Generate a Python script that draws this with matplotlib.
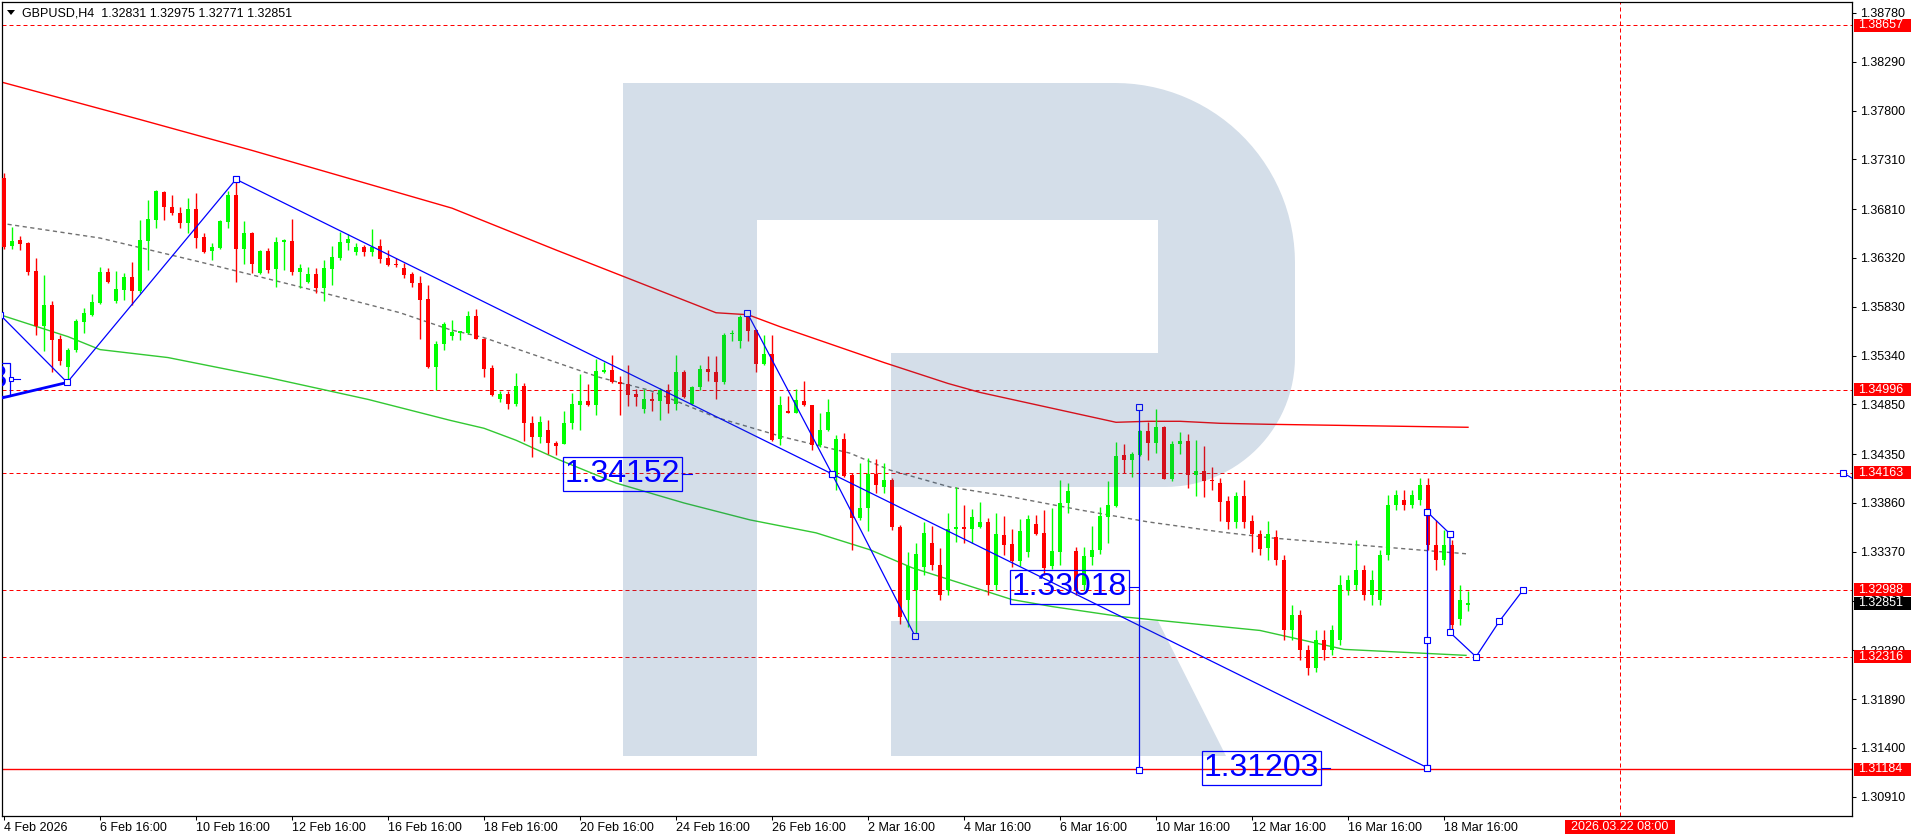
import numpy as np
import matplotlib
matplotlib.use("Agg")
import matplotlib.pyplot as plt
from matplotlib.patches import Rectangle, Polygon
import matplotlib.transforms as mtransforms

plt.rcParams['font.family'] = ['Liberation Sans', 'DejaVu Sans']

# ---------------- data (GBPUSD H4) ----------------
opens = [1.3712, 1.3644, 1.3650, 1.3647, 1.3619, 1.3564, 1.3585, 1.3551, 1.3523, 1.3540,
         1.3568, 1.3575, 1.3587, 1.3618, 1.3589, 1.3600, 1.3613, 1.3599, 1.3649, 1.3670,
         1.3698, 1.3683, 1.3677, 1.3667, 1.3681, 1.3653, 1.3639, 1.3642, 1.3668, 1.3695,
         1.3641, 1.3657, 1.3617, 1.3639, 1.3621, 1.3648, 1.3649, 1.3618, 1.3608, 1.3616,
         1.3602, 1.3621, 1.3632, 1.3647, 1.3638, 1.3643, 1.3638, 1.3644, 1.3632, 1.3626,
         1.3622, 1.3616, 1.3607, 1.3591, 1.3523, 1.3546, 1.3554, 1.3557, 1.3557, 1.3574,
         1.3551, 1.3522, 1.3490, 1.3495, 1.3485, 1.3503, 1.3466, 1.3452, 1.3459, 1.3446,
         1.3445, 1.3466, 1.3484, 1.3488, 1.3484, 1.3518, 1.3520, 1.3507, 1.3505, 1.3495,
         1.3480, 1.3490, 1.3488, 1.3499, 1.3485, 1.3518, 1.3485, 1.3502, 1.3521, 1.3517,
         1.3507, 1.3556, 1.3549, 1.3573, 1.3560, 1.3526, 1.3536, 1.3450, 1.3478, 1.3476,
         1.3488, 1.3484, 1.3444, 1.3459, 1.3413, 1.3450, 1.3414, 1.3371, 1.3381, 1.3415,
         1.3402, 1.3409, 1.3362, 1.3289, 1.3299, 1.3322, 1.3346, 1.3324, 1.3299, 1.3360,
         1.3362, 1.3360, 1.3362, 1.3367, 1.3304, 1.3354, 1.3345, 1.3328, 1.3337, 1.3365,
         1.3356, 1.3323, 1.3337, 1.3386, 1.3338, 1.3304, 1.3332, 1.3339, 1.3372, 1.3383,
         1.3434, 1.3429, 1.3434, 1.3458, 1.3446, 1.3462, 1.3410, 1.3445, 1.3448, 1.3414,
         1.3418, 1.3409, 1.3406, 1.3388, 1.3367, 1.3393, 1.3368, 1.3355, 1.3341, 1.3352,
         1.3329, 1.3258, 1.3274, 1.3238, 1.3220, 1.3248, 1.3238, 1.3248, 1.3299, 1.3304,
         1.3319, 1.3294, 1.3289, 1.3334, 1.3384, 1.3389, 1.3384, 1.3389, 1.3404, 1.3344,
         1.3329, 1.3344, 1.3269, 1.32831]
highs = [1.3717, 1.3663, 1.3654, 1.3648, 1.3632, 1.3615, 1.3589, 1.3555, 1.3542, 1.3571,
         1.3582, 1.3596, 1.3623, 1.3622, 1.3619, 1.3617, 1.3628, 1.3670, 1.3690, 1.3700,
         1.3699, 1.3695, 1.3683, 1.3692, 1.3697, 1.3657, 1.3647, 1.3670, 1.3699, 1.3710,
         1.3669, 1.3658, 1.3640, 1.3642, 1.3653, 1.3651, 1.3671, 1.3626, 1.3623, 1.3622,
         1.3630, 1.3644, 1.3658, 1.3656, 1.3647, 1.3645, 1.3661, 1.3651, 1.3640, 1.3632,
         1.3627, 1.3618, 1.3614, 1.3605, 1.3549, 1.3568, 1.3570, 1.3559, 1.3579, 1.3581,
         1.3552, 1.3525, 1.3498, 1.3498, 1.3516, 1.3506, 1.3473, 1.3473, 1.3469, 1.3448,
         1.3478, 1.3496, 1.3515, 1.3505, 1.3531, 1.3528, 1.3535, 1.3513, 1.3525, 1.3500,
         1.3500, 1.3497, 1.3501, 1.3505, 1.3535, 1.3520, 1.3503, 1.3525, 1.3534, 1.3534,
         1.3557, 1.3560, 1.3575, 1.3577, 1.3561, 1.3555, 1.3555, 1.3493, 1.3493, 1.3500,
         1.3508, 1.3484, 1.3476, 1.3490, 1.3454, 1.3456, 1.3416, 1.3426, 1.3431, 1.3430,
         1.3426, 1.3411, 1.3364, 1.3337, 1.3346, 1.3367, 1.3363, 1.3341, 1.3376, 1.3402,
         1.3384, 1.3380, 1.3387, 1.3371, 1.3376, 1.3373, 1.3360, 1.3370, 1.3374, 1.3374,
         1.3379, 1.3381, 1.3409, 1.3406, 1.3342, 1.3342, 1.3363, 1.3382, 1.3408, 1.3447,
         1.3445, 1.3437, 1.3459, 1.3467, 1.3480, 1.3463, 1.3448, 1.3457, 1.3455, 1.3449,
         1.3443, 1.3422, 1.3411, 1.3393, 1.3397, 1.3409, 1.3374, 1.3359, 1.3368, 1.3359,
         1.3334, 1.3284, 1.3279, 1.3243, 1.3258, 1.3258, 1.3263, 1.3314, 1.3314, 1.3349,
         1.3324, 1.3319, 1.3339, 1.3394, 1.3399, 1.3399, 1.3399, 1.3411, 1.3411, 1.3369,
         1.3359, 1.3349, 1.3304, 1.32975]
lows = [1.3641, 1.3641, 1.3640, 1.3615, 1.3555, 1.3539, 1.3517, 1.3525, 1.3508, 1.3538,
        1.3557, 1.3574, 1.3586, 1.3607, 1.3587, 1.3590, 1.3585, 1.3597, 1.3620, 1.3662,
        1.3670, 1.3675, 1.3662, 1.3657, 1.3642, 1.3637, 1.3630, 1.3641, 1.3662, 1.3608,
        1.3626, 1.3617, 1.3616, 1.3617, 1.3603, 1.3620, 1.3615, 1.3602, 1.3607, 1.3597,
        1.3589, 1.3605, 1.3630, 1.3640, 1.3635, 1.3634, 1.3634, 1.3627, 1.3624, 1.3623,
        1.3612, 1.3603, 1.3551, 1.3522, 1.3499, 1.3540, 1.3550, 1.3550, 1.3556, 1.3551,
        1.3512, 1.3493, 1.3487, 1.3480, 1.3483, 1.3448, 1.3432, 1.3446, 1.3435, 1.3434,
        1.3445, 1.3460, 1.3459, 1.3483, 1.3474, 1.3516, 1.3506, 1.3474, 1.3483, 1.3483,
        1.3476, 1.3478, 1.3469, 1.3476, 1.3479, 1.3491, 1.3484, 1.3499, 1.3508, 1.3490,
        1.3505, 1.3549, 1.3542, 1.3549, 1.3518, 1.3525, 1.3448, 1.3444, 1.3476, 1.3476,
        1.3483, 1.3439, 1.3442, 1.3458, 1.3399, 1.3412, 1.3339, 1.3369, 1.3358, 1.3396,
        1.3396, 1.3359, 1.3264, 1.3261, 1.3252, 1.3314, 1.3319, 1.3289, 1.3294, 1.3347,
        1.3346, 1.3346, 1.3361, 1.3294, 1.3299, 1.3334, 1.3322, 1.3323, 1.3332, 1.3354,
        1.3314, 1.3320, 1.3324, 1.3376, 1.3294, 1.3299, 1.3324, 1.3335, 1.3346, 1.3382,
        1.3416, 1.3412, 1.3433, 1.3429, 1.3436, 1.3410, 1.3408, 1.3435, 1.3401, 1.3393,
        1.3392, 1.3399, 1.3368, 1.3360, 1.3361, 1.3361, 1.3337, 1.3334, 1.3329, 1.3324,
        1.3248, 1.3248, 1.3228, 1.3213, 1.3216, 1.3228, 1.3233, 1.3243, 1.3294, 1.3299,
        1.3289, 1.3284, 1.3284, 1.3329, 1.3379, 1.3379, 1.3381, 1.3384, 1.3339, 1.3319,
        1.3324, 1.3256, 1.3263, 1.32771]
closes = [1.3643, 1.3649, 1.3646, 1.3618, 1.3564, 1.3585, 1.3550, 1.3529, 1.3540, 1.3569,
          1.3577, 1.3588, 1.3618, 1.3608, 1.3601, 1.3613, 1.3599, 1.3650, 1.3671, 1.3699,
          1.3683, 1.3677, 1.3667, 1.3681, 1.3652, 1.3638, 1.3643, 1.3669, 1.3695, 1.3641,
          1.3657, 1.3626, 1.3639, 1.3620, 1.3648, 1.3650, 1.3618, 1.3622, 1.3616, 1.3602,
          1.3622, 1.3633, 1.3648, 1.3651, 1.3643, 1.3638, 1.3643, 1.3631, 1.3625, 1.3625,
          1.3615, 1.3607, 1.3590, 1.3523, 1.3546, 1.3566, 1.3558, 1.3559, 1.3574, 1.3551,
          1.3521, 1.3494, 1.3495, 1.3485, 1.3503, 1.3466, 1.3452, 1.3467, 1.3446, 1.3443,
          1.3466, 1.3485, 1.3488, 1.3484, 1.3519, 1.3520, 1.3507, 1.3505, 1.3494, 1.3492,
          1.3490, 1.3488, 1.3499, 1.3485, 1.3518, 1.3492, 1.3502, 1.3521, 1.3517, 1.3507,
          1.3555, 1.3557, 1.3573, 1.3559, 1.3526, 1.3536, 1.3449, 1.3484, 1.3476, 1.3489,
          1.3484, 1.3444, 1.3459, 1.3477, 1.3450, 1.3413, 1.3371, 1.3381, 1.3415, 1.3404,
          1.3409, 1.3362, 1.3272, 1.3323, 1.3335, 1.3356, 1.3324, 1.3294, 1.3360, 1.3362,
          1.3360, 1.3372, 1.3367, 1.3304, 1.3355, 1.3344, 1.3328, 1.3358, 1.3370, 1.3355,
          1.3321, 1.3338, 1.3386, 1.3398, 1.3299, 1.3333, 1.3339, 1.3373, 1.3384, 1.3433,
          1.3429, 1.3435, 1.3458, 1.3446, 1.3462, 1.3410, 1.3445, 1.3448, 1.3414, 1.3418,
          1.3408, 1.3408, 1.3387, 1.3367, 1.3393, 1.3367, 1.3355, 1.3340, 1.3355, 1.3329,
          1.3258, 1.3274, 1.3238, 1.3220, 1.3248, 1.3238, 1.3258, 1.3304, 1.3309, 1.3319,
          1.3294, 1.3309, 1.3334, 1.3384, 1.3394, 1.3384, 1.3394, 1.3404, 1.3344, 1.3329,
          1.3344, 1.3263, 1.3289, 1.32851]

date_ticks = [0, 12, 24, 36, 48, 60, 72, 84, 96, 108, 120, 132, 144, 156, 168, 180]
date_labels = ['4 Feb 2026', '6 Feb 16:00', '10 Feb 16:00', '12 Feb 16:00', '16 Feb 16:00',
               '18 Feb 16:00', '20 Feb 16:00', '24 Feb 16:00', '26 Feb 16:00', '2 Mar 16:00',
               '4 Mar 16:00', '6 Mar 16:00', '10 Mar 16:00', '12 Mar 16:00', '16 Mar 16:00',
               '18 Mar 16:00']
price_ticks = [1.38780, 1.38290, 1.37800, 1.37310, 1.36810, 1.36320, 1.35830, 1.35340,
               1.34850, 1.34350, 1.33860, 1.33370, 1.32880, 1.32380, 1.31890, 1.31400, 1.30910]

dashed_levels = [1.38657, 1.34996, 1.34163, 1.32988, 1.32316]
solid_levels = [1.31184]
current_price = 1.32851
future_marker_bar = 202
future_marker_label = '2026.03.22 08:00'

# moving averages (sampled along the curves)
red_ma_idx = [-0.5, 17, 31, 56, 69, 89, 93, 97, 110, 118, 122, 139, 143, 147, 152, 158, 183]
red_ma_val = [1.3809, 1.3771, 1.3740, 1.3682, 1.3640, 1.3577, 1.3575, 1.3563, 1.3527, 1.3506,
              1.3497, 1.3467, 1.3468, 1.3468, 1.3466, 1.3465, 1.3462]
green_ma_idx = [-0.5, 8, 12, 20.5, 33, 45.5, 55.75, 60, 64, 69.5, 76.5, 85, 93.25, 101.5,
                108.25, 113.5, 126, 131, 139.5, 157, 167.5, 182.75]
green_ma_val = [1.3575, 1.3553, 1.3540, 1.3532, 1.3512, 1.3490, 1.3469, 1.3461, 1.3449, 1.3429,
                1.3406, 1.3386, 1.3369, 1.3356, 1.3339, 1.3321, 1.3289, 1.3282, 1.3272, 1.3258,
                1.3239, 1.3233]
gray_ma_idx = [-0.5, 12, 24.5, 37, 49.5, 55.75, 60, 74.5, 80.75, 89, 97.5, 105.75, 110.75,
               118.25, 126, 134.5, 143, 152, 158.25, 182.75]
gray_ma_val = [1.3667, 1.3652, 1.3628, 1.3603, 1.3577, 1.3560, 1.3552, 1.3512, 1.3499, 1.3472,
               1.3452, 1.3436, 1.3419, 1.3402, 1.3392, 1.3379, 1.3367, 1.3357, 1.3351, 1.3335]

# analysis drawings (bar index, price)
zig_idx = [-0.5, 7.9, 29]
zig_val = [1.3575, 1.3507, 1.3711]
thick_idx = [-0.5, 7.9]
thick_val = [1.3491, 1.3507]
main_idx = [29, 103.5, 177.9]
main_val = [1.3711, 1.34152, 1.31203]
wave_idx = [92.9, 103.5, 113.9]
wave_val = [1.3577, 1.34152, 1.3252]
vert1_idx = [141.9, 141.9]
vert1_val = [1.3482, 1.3118]
vert2_idx = [177.9, 177.9, 177.9]
vert2_val = [1.31203, 1.3248, 1.3377]
step_idx = [177.9, 180.75]
step_val = [1.3377, 1.3355]
fc_idx = [180.75, 180.75, 184.0, 186.9, 189.9]
fc_val = [1.3355, 1.3256, 1.32316, 1.3267, 1.32988]

labels_blue = [('1.34152', 84.75, 1.34152), ('1.33018', 140.6, 1.33018), ('1.31203', 164.6, 1.31203)]

# ---------------- figure ----------------
W, H = 1916, 840
fig = plt.figure(figsize=(W / 100, H / 100), dpi=100)
fig.patch.set_facecolor('white')
L_px, R_px, T_px, B_px = 2, 1852, 2, 816
ax = fig.add_axes([L_px / W, 1 - B_px / H, (R_px - L_px) / W, (B_px - T_px) / H])
ax.set_facecolor('white')
ax.set_xlim(-0.25, 231)
ax.set_ylim(1.30717, 1.38890)

PX = 0.72  # one pixel in points
RED = '#ff0000'
BLUE = '#0000ff'
GREEN_C = '#00ff00'

# level lines
for p in dashed_levels:
    ax.axhline(p, color=RED, lw=PX, dashes=(4, 3), zorder=1)
for p in solid_levels:
    ax.axhline(p, color=RED, lw=1.0, zorder=1)
ax.axvline(future_marker_bar, color=RED, lw=PX, dashes=(4, 3), zorder=1)

# moving averages
ax.plot(red_ma_idx, red_ma_val, color='#ff0000', lw=1.0, zorder=2)
ax.plot(green_ma_idx, green_ma_val, color='#32c832', lw=1.0, zorder=2)
ax.plot(gray_ma_idx, gray_ma_val, color='#707070', lw=1.0, dashes=(3, 2.5), zorder=2)

# candles
o = np.array(opens); h = np.array(highs); l = np.array(lows); c = np.array(closes)
x = np.arange(len(o))
up = c >= o
cols = np.where(up, GREEN_C, RED)
ax.vlines(x, l, h, colors=cols, lw=1.0, zorder=3)
body_lo = np.minimum(o, c)
body_h = np.maximum(np.abs(c - o), 0.00011)
ax.bar(x, body_h, bottom=body_lo, width=0.62, color=cols, lw=0, zorder=3)

# blue drawings
def bline(xs, ys, lw=0.9, sq=True, z=4):
    ax.plot(xs, ys, color=BLUE, lw=lw, zorder=z)
    if sq:
        ax.plot(xs, ys, ls='none', marker='s', ms=4.2, mfc='white', mec=BLUE, mew=0.8, zorder=z + 0.1)

bline(zig_idx, zig_val)
bline(thick_idx, thick_val, lw=2.0, sq=False)
bline(main_idx, main_val)
bline(wave_idx, wave_val)
bline(vert1_idx, vert1_val)
bline(vert2_idx, vert2_val)
bline(step_idx, step_val)
bline(fc_idx, fc_val)
ax.plot([229.9, 231.2], [1.34163, 1.3410], color=BLUE, lw=0.8, zorder=4)
ax.plot([229.9], [1.34163], marker='s', ms=4.2, mfc='white', mec=BLUE, mew=0.8, zorder=4)

# blue price labels
for txt, xr, p in labels_blue:
    ax.text(xr - 0.2, p, txt, ha='right', va='center', fontsize=23, color=BLUE, zorder=7,
            bbox=dict(boxstyle='square,pad=0.06', fc='none', ec=BLUE, lw=0.9))
    ax.plot([xr, xr + 1.2], [p, p], color=BLUE, lw=0.8, zorder=7)
# partially visible label at left edge
ax.text(0.45, 1.3510, '1.35103', ha='right', va='center', fontsize=23, color=BLUE, zorder=7,
        bbox=dict(boxstyle='square,pad=0.06', fc='none', ec=BLUE, lw=0.9), clip_on=True)
ax.plot([0.7, 2.0], [1.3510, 1.3510], color=BLUE, lw=0.8, zorder=7)
ax.plot([0.9], [1.3510], marker='s', ms=3.5, mfc='white', mec=BLUE, mew=0.8, zorder=7)

# watermark logo (decoration, in pixel space)
pix = mtransforms.Affine2D().scale(1 / W, -1 / H).translate(0, 1) + fig.transFigure
R1, r2 = 180, 130
t1 = np.linspace(-np.pi / 2, 0, 30)
t2 = np.linspace(0, np.pi / 2, 30)
outer = [(623, 83)]
outer += list(zip(1295 - R1 + R1 * np.cos(t1), 83 + R1 + R1 * np.sin(t1)))
outer += list(zip(1295 - r2 + r2 * np.cos(t2), 487 - r2 + r2 * np.sin(t2)))
outer += [(891, 487), (891, 353), (1158, 353), (1158, 220), (757, 220), (757, 756), (623, 756)]
leg = [(891, 621), (1158, 621), (1226, 756), (891, 756)]
for poly in (outer, leg):
    ax.add_patch(Polygon(poly, closed=True, transform=pix, fc='#285a91', ec='none',
                         alpha=0.2, zorder=5))

# axes style
for s in ax.spines.values():
    s.set_color('black'); s.set_linewidth(0.9)
ax.yaxis.tick_right()
ax.set_yticks(price_ticks)
ax.set_yticklabels([f'{p:.5f}' for p in price_ticks])
ax.tick_params(axis='y', direction='out', length=3, width=0.75, pad=2.5, labelsize=9, colors='black')
ax.set_xticks(date_ticks)
ax.set_xticklabels(date_labels)
for lab in ax.get_xticklabels():
    lab.set_ha('left')
ax.tick_params(axis='x', direction='out', length=3, width=0.75, pad=1.5, labelsize=9)

# right-side price tags
ytrans = mtransforms.blended_transform_factory(ax.transAxes, ax.transData)
half = 6.5 * (ax.get_ylim()[1] - ax.get_ylim()[0]) / (B_px - T_px)
for p, fc in [(lv, RED) for lv in dashed_levels + solid_levels] + [(current_price, 'black')]:
    ax.add_patch(Rectangle((1.0011, p - half), 0.0308, 2 * half, transform=ytrans, fc=fc,
                           ec='none', clip_on=False, zorder=10))
    ax.text(1.0034, p, f'{p:.5f}', transform=ytrans, color='white', fontsize=9, va='center',
            ha='left', clip_on=False, zorder=11)

# future time tag at bottom
xtrans = mtransforms.blended_transform_factory(ax.transData, ax.transAxes)
ax.add_patch(Rectangle((future_marker_bar - 6.9, -0.0215), 13.8, 0.0165, transform=xtrans,
                       fc=RED, ec='none', clip_on=False, zorder=10))
ax.text(future_marker_bar, -0.0133, future_marker_label, transform=xtrans, color='white',
        fontsize=9, ha='center', va='center', clip_on=False, zorder=11)

# header
fig.add_artist(Polygon([(7, 10), (15, 10), (11, 15)], closed=True, transform=pix, fc='black', ec='none'))
fig.text(22 / W, 1 - 13.5 / H, 'GBPUSD,H4  1.32831 1.32975 1.32771 1.32851', fontsize=9,
         va='center', ha='left', color='black')

fig.savefig('out.png', dpi=100)
